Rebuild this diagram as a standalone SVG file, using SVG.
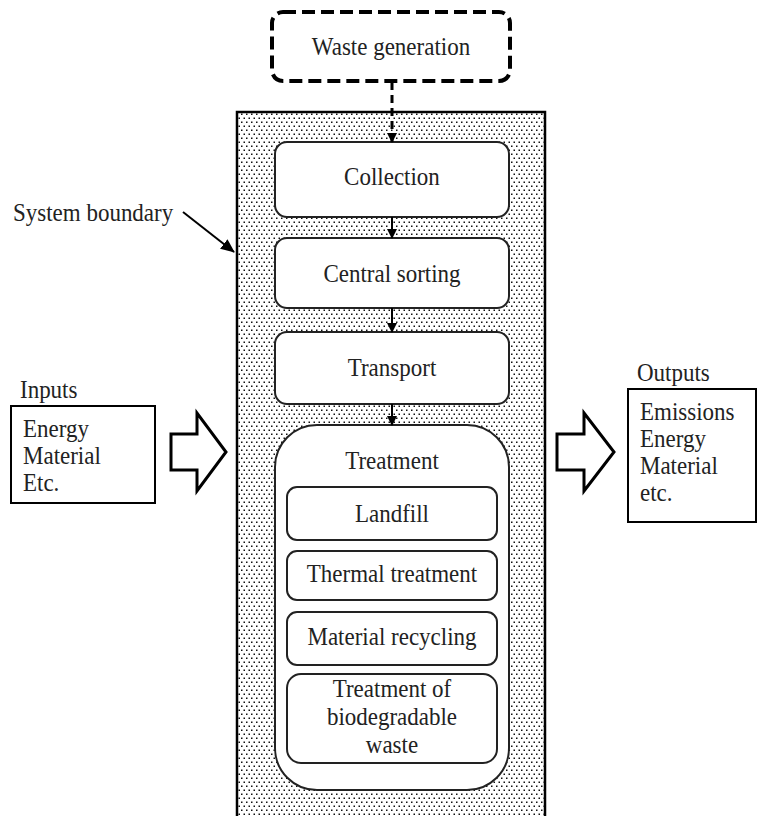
<svg xmlns="http://www.w3.org/2000/svg" width="762" height="816" viewBox="0 0 762 816">
<style>
text{font-family:"Liberation Serif","DejaVu Serif",serif;font-size:23px;fill:#222;transform-box:fill-box;transform-origin:center;transform:scaleY(1.1)}
.c{text-anchor:middle}
.box{fill:#fff;stroke:#222;stroke-width:2}
.blk{fill:#fff;stroke:#000;stroke-width:3;stroke-linejoin:miter}
.ln{stroke:#000;stroke-width:2;fill:none}
</style>
<defs>
<pattern id="dots" width="5" height="8" patternUnits="userSpaceOnUse">
<rect width="5" height="8" fill="#fff"/>
<rect x="1" y="1.5" width="1.5" height="1.5" fill="#111"/>
<rect x="3.5" y="5.5" width="1.5" height="1.5" fill="#111"/>
</pattern>
<marker id="ah" markerWidth="10" markerHeight="10" refX="9" refY="5" orient="auto" markerUnits="userSpaceOnUse">
<path d="M0,0 L10,5 L0,10 Z" fill="#000"/>
</marker>
<marker id="ah2" markerWidth="14" markerHeight="12" refX="13" refY="6" orient="auto" markerUnits="userSpaceOnUse">
<path d="M0,0 L14,6 L0,12 Z" fill="#000"/>
</marker>
</defs>

<g id="system-boundary">
<rect x="237" y="112" width="308" height="720" fill="url(#dots)" stroke="#000" stroke-width="2.5"/>
</g>

<g id="waste-generation">
<rect x="272" y="12" width="238" height="69" rx="11" fill="#fff" stroke="#000" stroke-width="4" stroke-dasharray="13,6"/>
<text class="c" x="391" y="54">Waste generation</text>
</g>

<g id="collection">
<rect class="box" x="275" y="142" width="234" height="75" rx="12"/>
<text class="c" x="392" y="184">Collection</text>
</g>

<g id="central-sorting">
<rect class="box" x="275" y="238" width="234" height="70" rx="12"/>
<text class="c" x="392" y="281">Central sorting</text>
</g>

<g id="transport">
<rect class="box" x="275" y="332" width="234" height="72" rx="12"/>
<text class="c" x="392" y="375">Transport</text>
</g>

<g id="treatment">
<rect class="box" x="275" y="425" width="234" height="365" rx="42"/>
<text class="c" x="392" y="468">Treatment</text>
</g>

<g id="landfill">
<rect class="box" x="287" y="487" width="210" height="53" rx="10"/>
<text class="c" x="392" y="521">Landfill</text>
</g>

<g id="thermal-treatment">
<rect class="box" x="287" y="551" width="210" height="49" rx="10"/>
<text class="c" x="392" y="581">Thermal treatment</text>
</g>

<g id="material-recycling">
<rect class="box" x="287" y="612" width="210" height="53" rx="10"/>
<text class="c" x="392" y="644">Material recycling</text>
</g>

<g id="biodegradable">
<rect class="box" x="287" y="674" width="210" height="89" rx="14"/>
<text class="c" x="392" y="696">Treatment of</text>
<text class="c" x="392" y="724">biodegradable</text>
<text class="c" x="392" y="752">waste</text>
</g>

<g id="inputs">
<text x="20" y="397">Inputs</text>
<rect x="11" y="406" width="144" height="97" fill="#fff" stroke="#000" stroke-width="2"/>
<text x="23" y="436">Energy</text>
<text x="23" y="463">Material</text>
<text x="23" y="490">Etc.</text>
</g>

<g id="outputs">
<text x="637" y="380">Outputs</text>
<rect x="628" y="389" width="128" height="133" fill="none" stroke="#000" stroke-width="2"/>
<text x="640" y="419">Emissions</text>
<text x="640" y="446">Energy</text>
<text x="640" y="473">Material</text>
<text x="640" y="500">etc.</text>
</g>

<g id="system-boundary-label">
<text x="13" y="220">System boundary</text>
</g>

<g id="connectors">
<line x1="392" y1="82" x2="392" y2="142" stroke="#000" stroke-width="3" stroke-dasharray="8,5" marker-end="url(#ah)"/>
<line class="ln" x1="392" y1="217" x2="392" y2="238" marker-end="url(#ah)"/>
<line class="ln" x1="392" y1="308" x2="392" y2="332" marker-end="url(#ah)"/>
<line class="ln" x1="392" y1="404" x2="392" y2="425" marker-end="url(#ah)"/>
<line class="ln" x1="183" y1="212" x2="234" y2="252" marker-end="url(#ah2)"/>
<path class="blk" d="M171,434 L197,434 L197,413 L226,452 L197,491 L197,470 L171,470 Z"/>
<path class="blk" d="M557,434 L584,434 L584,413 L614,452 L584,491 L584,470 L557,470 Z"/>
</g>
</svg>
